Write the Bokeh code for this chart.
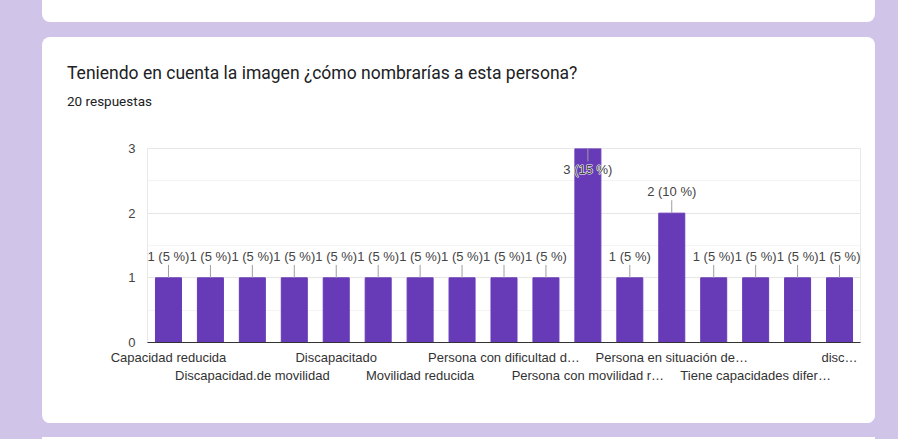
from bokeh.plotting import figure
from bokeh.models import (ColumnDataSource, FixedTicker, LinearAxis, Div, Range1d, Text)
from bokeh.layouts import column
from bokeh.core.properties import value
from bokeh.embed import file_html
from bokeh.resources import INLINE

# ---------------- data ----------------
categories = [
    "Capacidad reducida",
    "Discapacidad",
    "Discapacidad.de movilidad",
    "Discapacidad.motriz",
    "Discapacitado",
    "Minusválido",
    "Movilidad reducida",
    "Persona con capacidades diferentes",
    "Persona con dificultad d…",
    "Persona con discapacidad",
    "Persona con movilidad r…",
    "Persona con necesidades especiales",
    "Persona en situación de…",
    "Persona usuaria de silla de ruedas",
    "Tiene capacidades difer…",
    "Usuario de silla de ruedas",
    "disc…",
]
counts = [1, 1, 1, 1, 1, 1, 1, 1, 1, 1, 3, 1, 2, 1, 1, 1, 1]
total_responses = 20
y_ticks = [0, 1, 2, 3]
y_minor_ticks = [0.5, 1.5, 2.5]
row1_labels = ["Capacidad reducida", "Discapacitado", "Persona con dificultad d…",
               "Persona en situación de…", "disc…"]
row2_labels = ["Discapacidad.de movilidad", "Movilidad reducida",
               "Persona con movilidad r…", "Tiene capacidades difer…"]
title_text = "Teniendo en cuenta la imagen ¿cómo nombrarías a esta persona?"
subtitle_text = f"{total_responses} respuestas"

# ---------------- styling ----------------
BAR = "#673ab7"
LAVENDER = "#d1c4e9"
TXT = "#444444"
CHART_FONT = value("Liberation Sans")
ymax = max(y_ticks)
lead = 0.2

pos = list(range(len(categories)))
labels = [f"{v} ({round(v / total_responses * 100)} %)" for v in counts]

up_x, up_val, up_lab = [], [], []
dn_x, dn_val, dn_lab = [], [], []
for i, v, l in zip(pos, counts, labels):
    if v + lead + 0.25 > ymax:
        dn_x.append(i); dn_val.append(v); dn_lab.append(l)
    else:
        up_x.append(i); up_val.append(v); up_lab.append(l)

src = ColumnDataSource(dict(x=pos, val=counts, cat=categories))
src_up = ColumnDataSource(dict(x=up_x, val=up_val, lab=up_lab,
                               tip=[v + lead for v in up_val]))
src_dn = ColumnDataSource(dict(x=dn_x, val=dn_val, lab=dn_lab,
                               tip=[v - lead for v in dn_val]))

p = figure(x_range=Range1d(-0.5, len(categories) - 0.5), y_range=Range1d(0, ymax),
           width=833, height=314, output_backend="svg", toolbar_location=None,
           title=None, x_axis_type=None,
           min_border_left=105, min_border_right=15, min_border_top=39,
           min_border_bottom=81, border_fill_color="white",
           background_fill_color="white", outline_line_color="#e8e8e8")

p.vbar(x="x", top="val", width=0.62, source=src, fill_color=BAR, line_color=BAR)
p.segment(x0="x", y0="val", x1="x", y1="tip", source=src_up, line_color="#9e9e9e")
p.segment(x0="x", y0="val", x1="x", y1="tip", source=src_dn, line_color="#9e9e9e")

p.text(x="x", y="tip", text="lab", source=src_up, text_align="center",
       text_baseline="bottom", text_font=CHART_FONT, text_font_size="13px",
       text_color=TXT, y_offset=-1)

# halo behind labels that sit inside a bar
if "text_outline_color" in Text.properties():
    p.text(x="x", y="tip", text="lab", source=src_dn, text_align="center",
           text_baseline="top", text_font=CHART_FONT, text_font_size="13px",
           text_color="white", text_outline_color="white", y_offset=1)
p.text(x="x", y="tip", text="lab", source=src_dn, text_align="center",
       text_baseline="top", text_font=CHART_FONT, text_font_size="13px",
       text_color=TXT, y_offset=1)

# y axis
p.yaxis.ticker = FixedTicker(ticks=y_ticks, minor_ticks=y_minor_ticks)
p.yaxis.axis_line_color = None
p.yaxis.major_tick_line_color = None
p.yaxis.minor_tick_line_color = None
p.yaxis.major_tick_out = 0
p.yaxis.minor_tick_out = 0
p.yaxis.major_label_standoff = 12
p.yaxis.major_label_text_font = "Liberation Sans"
p.yaxis.major_label_text_font_size = "13px"
p.yaxis.major_label_text_color = TXT
p.ygrid.grid_line_color = "#e6e6e6"
p.ygrid.minor_grid_line_color = "#f4f4f4"

# x axes: two staggered rows of category labels
for shown, standoff, line_color in ((row1_labels, 7, "#333333"), (row2_labels, 0, None)):
    idx = [i for i, c in enumerate(categories) if c in shown]
    ax = LinearAxis(ticker=FixedTicker(ticks=idx, minor_ticks=[]),
                    major_label_overrides={i: categories[i] for i in idx})
    ax.axis_line_color = line_color
    ax.axis_line_width = 1.2
    ax.major_tick_line_color = None
    ax.minor_tick_line_color = None
    ax.major_tick_out = 0
    ax.minor_tick_out = 0
    ax.major_label_standoff = standoff
    ax.major_label_text_font = "Liberation Sans"
    ax.major_label_text_font_size = "13px"
    ax.major_label_text_color = "#333333"
    p.add_layout(ax, "below")

p.styles = {"border-radius": "0 0 8px 8px", "overflow": "hidden"}

title_div = Div(text=title_text, width=800, height=20, margin=(26, 0, 0, 25),
                styles={"font-family": "Roboto", "font-size": "17.5px",
                        "color": "#202124", "line-height": "20px",
                        "white-space": "nowrap"})
sub_div = Div(text=subtitle_text, width=300, height=16, margin=(10, 0, 0, 25),
              styles={"font-family": "Roboto", "font-size": "13.5px",
                      "color": "#202124", "line-height": "16px",
                      "white-space": "nowrap"})

card = column(title_div, sub_div, p, width=833, height=386, margin=(15, 0, 0, 42),
              styles={"background-color": "white", "border-radius": "8px"})

top_card = Div(text="", width=833, height=22, margin=(0, 0, 0, 42),
               styles={"background-color": "white", "border-radius": "0 0 8px 8px"})
bottom_card = Div(text="", width=833, height=2, margin=(14, 0, 0, 42),
                  styles={"background-color": "white"})

layout = column(top_card, card, bottom_card, width=898, height=439,
                styles={"background-color": LAVENDER})

open("out.html", "w").write(file_html(layout, INLINE))
